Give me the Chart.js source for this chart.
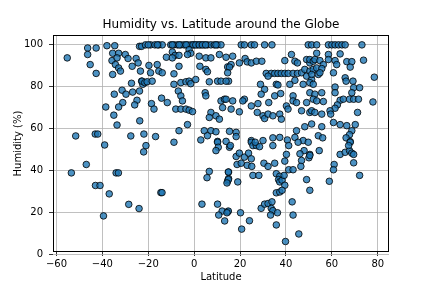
<!DOCTYPE html>
<html>
<head>
<meta charset="utf-8">
<script src="https://cdn.jsdelivr.net/npm/chart.js@4/dist/chart.umd.min.js"></script>
<style>
html,body{margin:0;padding:0;background:#fff;}
#wrap{width:432px;height:288px;position:relative;}
</style>
</head>
<body>
<div id="wrap"><canvas id="c" width="432" height="288"></canvas></div>
<script>
const titleText = "Humidity vs. Latitude around the Globe";
const xLabel = "Latitude";
const yLabel = "Humidity (%)";
const xTicks = [-60, -40, -20, 0, 20, 40, 60, 80];
const yTicks = [0, 20, 40, 60, 80, 100];

const lat = [
-55.3,-53.5,-51.6,-47,-46.4,-46.4,-42.7,-45.3,-42.7,-43,-41,-43.1,-42,-39,-39.5,-38,-38.5,-37,-34,-33,-28.5,-24,-22,-21,
-34.6,-35.5,-32.9,-35.8,-33.6,-34.3,-32.9,-35.5,-32.1,-30,-28.8,-27,-25.3,-24.4,-23.8,-22.9,-23.4,-27.3,-22.9,-22.4,-34.8,-31.4,-29.7,-26.8,-23.8,-24.9,-25.9,-31.1,-32.9,-35,-33.6,-23.7,-27.6,-21.9,
-21.2,-19,-17.1,-15.4,-13.9,-10.2,-8.8,-7.3,-5.8,-4.4,-2.9,-1.4,0,1.4,2.9,4.4,5.8,7.3,8.8,10.2,11.7,-20,-16,-9.5,-6.5,-3.5,-0.5,0.7,2.2,3.6,5,9.5,
-9.5,-8.3,-2.2,-1.5,-2.9,-6.6,-12.1,-9.5,2.2,5.1,7.3,11,-19.7,-16.1,-15.4,-13.9,-6.6,2.5,5.1,5.8,14.6,-19,-8.8,-22.7,-21.5,-20.5,-18.3,-8.8,-5.8,-3.6,-2.2,-1.5,0.7,6.6,10.2,11.7,15,-18.6,-17.5,-14.2,-11.7,-6.9,-5.8,-5.1,-8,-5.8,-3.6,-2.2,-0.7,4.8,5.1,11.7,12.4,13.2,7.3,6.6,9.5,11,-6.6,-2.9,4.4,7.3,9.5,5.8,2.9,10.2,-16.8,-8.8,
20.5,21.9,24.9,26.3,30.7,33.9,49.7,51.2,
16.8,13.9,16.1,19.7,22.2,23.1,24.9,27.1,29.5,39.5,42.4,43.9,45,49,50.4,15.4,14.6,13.9,
31.4,33.6,35.1,36.5,38,39.5,41,43.1,45,
32.2,46.8,48.2,49,50.4,51.2,28.9,35.8,36.5,41.7,43.9,47.5,30.7,29.2,21.9,21.2,13.9,16.8,16.1,19.7,24.9,27.8,27.5,30,30.7,32.5,32.2,35.1,37.7,34.3,37.3,38,40.2,40.9,43.1,43.1,44.6,46.8,49,50.4,48.2,44.6,15.4,18.3,18.3,13.9,34.3,37.3,40.6,43.9,47.5,24.9,30,
53.4,58.5,60,61.4,62.9,64.4,65.8,73.1,
53.4,58.5,63.6,50.4,51.9,52.6,54.8,56.3,58.5,61.4,62.1,66.5,68.7,73.8,68,51.9,53.4,55.6,51.2,54.1,54.8,60.7,65.8,66.2,69.2,78.5,50.4,51.9,61.4,69.5,72.1,68.7,50.4,52.6,55.6,61.4,51.9,53.4,56.3,63.6,65,67.7,69.5,71.6,77.9,62.4,61.4,51.2,52.6,55.6,59.2,59.5,71.2,51.2,55.6,60.7,63.6,66.5,70.2,68.7,67.7,66.2,68,54.1,56,
-14.5,-14,10.2,10.5,9.5,6.6,5.6,15,14.6,15,3.4,10.2,12.2,10.7,13.3,14.6,15.4,
15.8,18.3,19.7,18.7,20.5,21.9,23.7,24.9,23.1,25.1,24.9,25.6,27.1,28.5,26.6,34.3,30.4,32.2,35.1,14.9,14.9,14.3,19,25.6,28.2,35.8,37.3,36.8,37.3,38.3,39.5,35.8,37.3,38.3,39.2,39.5,40.2,41.2,41.2,43.1,45.3,49.7,47.9,46.1,46.8,46.5,49,50.4,50,42.7,43.1,45.6,39.8,14.9,14.3,20.2,20.7,24.1,29.2,30.7,32.2,33.9,33.6,34.3,33.3,36.3,35.8,
54.5,50.4,63.6,65.8,67.7,68.7,69.5,68,67.3,69.5,61,60.7,58.9,72.1,50.4
];

const humidity = [
93.8,39,56.6,43,98.5,95.4,98.5,90.6,86.4,33,33,57.5,57.5,52.3,18.5,99.6,70.4,29,39,39,24,22,49,52,
99.6,96,96,92.5,93.8,90.6,89,85.9,87.5,95.4,93.5,89.8,93.5,91.4,99.3,99.3,87.5,81.7,82.7,81.2,76.5,78.4,76.5,77.5,78,73.6,71.4,72.5,70.4,66.5,61.8,63.8,56.6,57.5,
100,100,100,100,100,100,100,100,100,100,100,100,100,100,100,100,100,100,100,100,100,100,100,100,100,100,100,100,100,100,100,100,
96.6,95,97.7,96,95.4,95,94.1,93.8,94.6,93.8,93.8,95.4,90.2,90.6,87.5,86.7,89.8,89.8,88.3,87.2,89.5,86.7,86.2,82.7,82,82.4,82.7,81.2,82,82.4,82.7,81.5,83.5,82.4,82.7,82.7,82.7,72,69.4,74.6,72.5,78,75.7,73.3,69.4,69.4,69.4,68.9,68.2,77.2,75.7,73.3,70.1,74.1,67.8,65.4,66.2,64.6,59.1,62,59.1,59.1,58.6,56.7,54.7,54,56.3,53.6,
100,100,100,100,100,100,100,100,
94.6,94.1,90.6,91.4,93.5,91.9,91.4,92.2,92.2,92.5,95.4,92.2,91.4,93,91.4,89.4,86.7,82.7,
86.4,86.4,86.4,86.4,86.4,86.4,86.4,86.4,86.4,
85.1,86.7,88.3,85.1,87.5,83.5,81.2,81.2,80.9,81.2,83.1,81.2,78.8,76.5,74.1,73.3,74.1,73.3,69.4,68.1,70.9,72,67.8,66.2,64.9,72.5,67,75.7,76.8,66.2,67,64.6,70.9,69.4,75.7,73.3,72.5,68.6,72.5,67.8,61,59.1,58.8,58.3,56.3,54,55.7,55.9,54.7,55.9,54.4,54.4,54.4,
100,100,100,100,100,100,100,100,
96,95.4,95.7,93,92.2,93,92.5,90.6,93,92.5,90.6,92,92,92.7,89.4,88.3,89,88.7,85.9,85.9,86.7,86.7,84.3,82.7,82.7,84.6,82,81.2,79.9,79.6,79.6,77.2,77.2,76.5,77.2,77.2,74.1,73.3,73,73.6,74.1,74.1,74.1,74.1,72.8,71.4,69.8,68.6,67.8,67,68.6,67,67.8,62.3,61,63,62,61.5,62,59.1,57.2,55.7,53.9,56.7,55.7,
29.6,29.6,53.6,51.2,49.6,39.7,36.7,39.4,35.1,36.3,24.1,24.1,20.8,18.9,16.1,20.5,51.2,
52,46.8,48.4,43,43.6,46.5,48.4,45.7,42.6,42.1,53.6,52,52,51.5,53.6,52,43.6,42.1,43.6,39.4,35.8,34.2,34.7,37.8,37.8,38.6,37.4,35.8,34.7,35.5,33.1,29.5,29.9,30.7,37.8,44.6,47.8,52,40.5,40.5,53.6,53.6,49.6,48.1,44.9,42.1,35.8,47.8,46.2,25.2,18.9,9.9,6.3,20.8,20,20,12.2,16.2,22.1,24.1,24.4,25.2,22.1,21,18.9,20,14.2,
49.6,47.3,47.8,48.8,49.6,48.4,47.8,53.6,52,43.8,43,40.5,35,37.8,30.7
];

const points = lat.map((v, i) => ({x: v, y: humidity[i]}));
const FONT = '"DejaVu Sans", "Liberation Sans", sans-serif';

const decor = {
  id: 'decor',
  afterDraw(chart) {
    const ctx = chart.ctx;
    const a = chart.chartArea;
    ctx.save();
    ctx.strokeStyle = '#000';
    ctx.lineWidth = 1;
    ctx.strokeRect(Math.round(a.left) + 0.5, Math.round(a.top) + 0.5, Math.round(a.right - a.left) - 1, Math.round(a.bottom - a.top) - 1);
    ctx.fillStyle = '#000';
    ctx.textAlign = 'center';
    ctx.textBaseline = 'middle';
    ctx.font = '12px ' + FONT;
    ctx.fillText(titleText, (a.left + a.right) / 2, 25);
    ctx.font = '10px ' + FONT;
    ctx.fillText(xLabel, (a.left + a.right) / 2, 277);
    ctx.translate(18, (a.top + a.bottom) / 2);
    ctx.rotate(-Math.PI / 2);
    ctx.fillText(yLabel, 0, 0);
    ctx.restore();
  }
};

new Chart(document.getElementById('c'), {
  type: 'scatter',
  data: {
    datasets: [{
      data: points,
      backgroundColor: 'rgba(31,119,180,0.8)',
      borderColor: 'rgba(0,0,0,0.8)',
      borderWidth: 1,
      pointRadius: 3.3,
      pointHoverRadius: 3.3
    }]
  },
  options: {
    responsive: false,
    animation: false,
    events: [],
    layout: {padding: {top: 35, right: 43, left: 0, bottom: 0}},
    plugins: {legend: {display: false}, tooltip: {enabled: false}, title: {display: false}},
    scales: {
      x: {
        type: 'linear', min: -61.5, max: 84.9,
        afterBuildTicks: s => { s.ticks = xTicks.map(v => ({value: v})); },
        afterFit: s => { s.height = 36; },
        grid: {color: '#b0b0b0', lineWidth: 0.8, tickColor: '#000', tickLength: 4, drawOnChartArea: true},
        border: {display: false},
        ticks: {color: '#000', font: {size: 10, family: FONT}, padding: 2, maxRotation: 0,
                callback: v => String(v).replace('-', '\u2212')}
      },
      y: {
        type: 'linear', min: 1.3, max: 104.7,
        afterBuildTicks: s => { s.ticks = yTicks.map(v => ({value: v})); },
        afterFit: s => { s.width = 53; },
        grid: {color: '#b0b0b0', lineWidth: 0.8, tickColor: '#000', tickLength: 4},
        border: {display: false},
        ticks: {color: '#000', font: {size: 10, family: FONT}, padding: 6}
      }
    }
  },
  plugins: [decor]
});
</script>
</body>
</html>
